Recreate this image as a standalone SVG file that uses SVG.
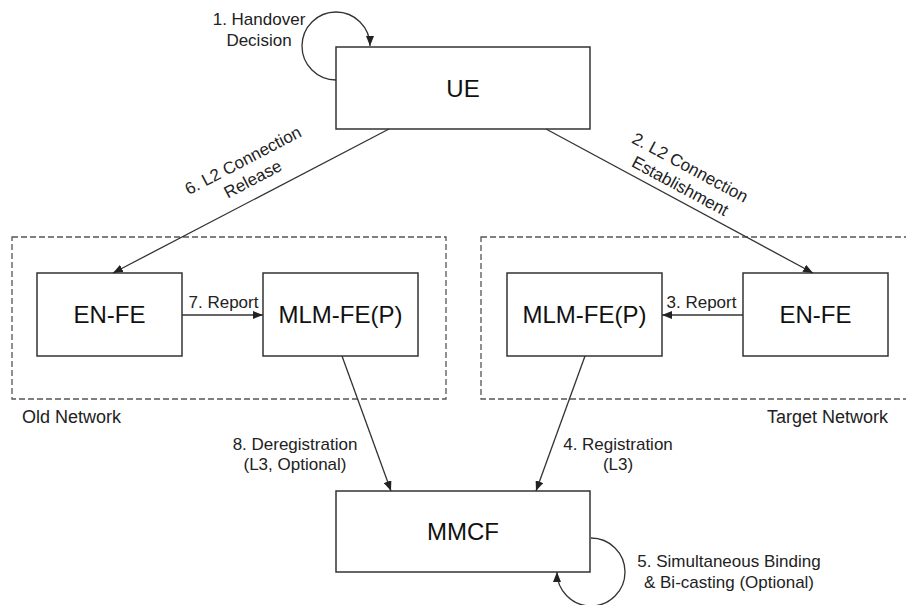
<svg xmlns="http://www.w3.org/2000/svg" width="906" height="605" viewBox="0 0 906 605">
  <style>
    .box { fill: #ffffff; stroke: #333333; stroke-width: 1.5; }
    .zone { fill: none; stroke: #555555; stroke-width: 1.3; stroke-dasharray: 6 3; }
    .edge { fill: none; stroke: #333333; stroke-width: 1.3; marker-end: url(#arrow); }
    .node-label { font-family: "Liberation Sans", Arial, sans-serif; font-size: 24px; fill: #111111; text-anchor: middle; }
    .edge-label { font-family: "Liberation Sans", Arial, sans-serif; font-size: 17px; fill: #222222; text-anchor: middle; }
    .zone-label { font-family: "Liberation Sans", Arial, sans-serif; font-size: 18px; fill: #222222; }
  </style>
  <defs>
    <marker id="arrow" markerUnits="userSpaceOnUse" markerWidth="10" markerHeight="8" refX="10" refY="4" orient="auto">
      <path d="M0,0 L10,4 L0,8 z" fill="#222222"/>
    </marker>
  </defs>

  <rect width="906" height="605" fill="#ffffff"/>

  <!-- network zones -->
  <g id="old-network">
    <rect class="zone" x="12" y="237" width="434" height="162"/>
    <text class="zone-label" x="22" y="423">Old Network</text>
  </g>
  <g id="target-network">
    <rect class="zone" x="481" y="237" width="430" height="162"/>
    <text class="zone-label" x="888" y="423" text-anchor="end">Target Network</text>
  </g>

  <!-- nodes -->
  <g id="ue">
    <rect class="box" x="336" y="47" width="254" height="82"/>
    <text class="node-label" x="463" y="97">UE</text>
  </g>
  <g id="old-en-fe">
    <rect class="box" x="37" y="273" width="145" height="83"/>
    <text class="node-label" x="109.5" y="323">EN-FE</text>
  </g>
  <g id="old-mlm-fe">
    <rect class="box" x="263" y="273" width="155" height="83"/>
    <text class="node-label" x="340.5" y="323">MLM-FE(P)</text>
  </g>
  <g id="target-mlm-fe">
    <rect class="box" x="507" y="273" width="155" height="83"/>
    <text class="node-label" x="584.5" y="323">MLM-FE(P)</text>
  </g>
  <g id="target-en-fe">
    <rect class="box" x="743" y="273" width="145" height="83"/>
    <text class="node-label" x="815.5" y="323">EN-FE</text>
  </g>
  <g id="mmcf">
    <rect class="box" x="336" y="491" width="254" height="81"/>
    <text class="node-label" x="463" y="540">MMCF</text>
  </g>

  <!-- connectors -->
  <g id="connectors">
    <!-- 1. handover decision (self loop on UE) -->
    <path class="edge" d="M336,80 A34,34 0 1 1 370,46"/>
    <text class="edge-label" x="259" y="25">1. Handover</text>
    <text class="edge-label" x="259" y="46">Decision</text>

    <!-- 2. L2 connection establishment -->
    <path class="edge" d="M546,129 L813,273"/>
    <g transform="translate(685,177) rotate(28.3)">
      <text class="edge-label" x="0" y="-5">2. L2 Connection</text>
      <text class="edge-label" x="0" y="16">Establishment</text>
    </g>

    <!-- 3. report (target network) -->
    <path class="edge" d="M743,315 L662,315"/>
    <text class="edge-label" x="701.5" y="308">3. Report</text>

    <!-- 4. registration -->
    <path class="edge" d="M585,356 L536,491"/>
    <text class="edge-label" x="618" y="450">4. Registration</text>
    <text class="edge-label" x="618" y="470">(L3)</text>

    <!-- 5. simultaneous binding (self loop on MMCF) -->
    <path class="edge" d="M591,538 A34,34 0 1 1 557,572"/>
    <text class="edge-label" x="729" y="567">5. Simultaneous Binding</text>
    <text class="edge-label" x="729" y="588">&amp; Bi-casting (Optional)</text>

    <!-- 6. L2 connection release -->
    <path class="edge" d="M389,129 L113,273"/>
    <g transform="translate(248,170) rotate(-27.6)">
      <text class="edge-label" x="0" y="-5">6. L2 Connection</text>
      <text class="edge-label" x="0" y="16">Release</text>
    </g>

    <!-- 7. report (old network) -->
    <path class="edge" d="M182,315 L263,315"/>
    <text class="edge-label" x="223.5" y="308">7. Report</text>

    <!-- 8. deregistration -->
    <path class="edge" d="M342,356 L391,491"/>
    <text class="edge-label" x="295" y="450">8. Deregistration</text>
    <text class="edge-label" x="295" y="470">(L3, Optional)</text>
  </g>
</svg>
